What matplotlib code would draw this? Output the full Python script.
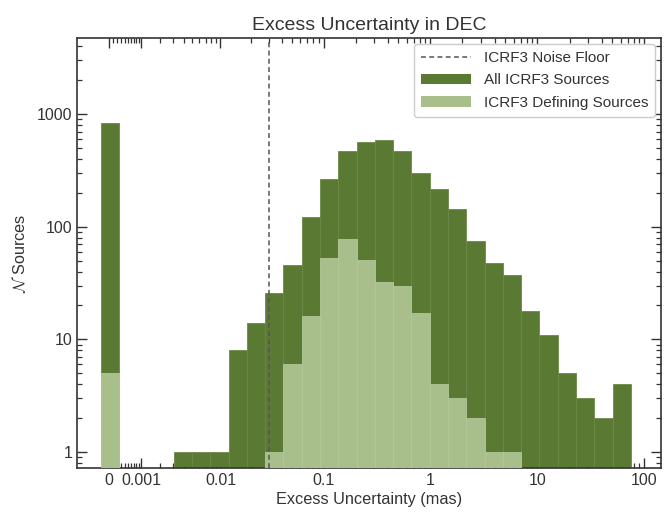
"""Histogram of the excess DEC uncertainty for all ICRF3 sources vs. defining sources."""
import matplotlib
matplotlib.use("Agg")
import matplotlib.pyplot as plt
import numpy as np
from matplotlib.patches import Patch
from matplotlib.lines import Line2D

plt.rcParams["font.family"] = ["Liberation Sans", "DejaVu Sans"]
plt.rcParams["mathtext.fontset"] = "cm"

# offset used so that zero excess can sit on the log axis
OFFSET = 0.001
NOISE_FLOOR = 0.03  # mas

# counts per bin (bins uniform in log10(x + OFFSET))
all_counts = [830, 0, 0, 0, 1, 1, 1, 8, 14, 26, 46, 121, 265, 474, 566, 590,
              474, 298, 215, 143, 75, 48, 37, 18, 11, 5, 3, 2, 4]
def_counts = [5, 0, 0, 0, 0, 0, 0, 0, 0, 1, 6, 16, 53, 78, 51, 32,
              30, 17, 4, 3, 2, 1, 1, 0, 0, 0, 0, 0, 0]

major_ticks = [0, 0.001, 0.01, 0.1, 1, 10, 100]
major_labels = ["0", "0.001", "0.01", "0.1", "1", "10", "100"]

DARK = "#5a7932"
LIGHT = "#a9bf8b"
INK = "#333333"


def fwd(x):
    return np.log10(np.clip(np.asarray(x, dtype=float) + OFFSET, 1e-12, None))


def inv(y):
    return 10.0 ** np.asarray(y, dtype=float) - OFFSET


# bin edges: 29 equal bins in transformed space
lo, width = -3.077, 0.1707
edges = inv(lo + width * np.arange(len(all_counts) + 1))
left = edges[:-1]
widths = np.diff(edges)

fig = plt.figure(figsize=(6.71, 5.12), dpi=100)
ax = fig.add_axes([0.1148, 0.0859, 0.8704, 0.8399])
ax.set_xscale("function", functions=(fwd, inv))
ax.set_yscale("log")

all_c = np.array(all_counts, dtype=float)
def_c = np.array(def_counts, dtype=float)
m = all_c > 0
ax.bar(left[m], all_c[m], width=widths[m], align="edge", color=DARK,
       edgecolor="#6b8846", linewidth=0.6, zorder=2)
m = def_c > 0
ax.bar(left[m], def_c[m], width=widths[m], align="edge", color=LIGHT,
       edgecolor="#b4c89a", linewidth=0.6, zorder=3)

ax.axvline(NOISE_FLOOR, color="#555555", ls=(0, (3.2, 2.2)), lw=1.1, zorder=4)

ax.set_xlim(inv(-3.298), inv(2.156))
ax.set_ylim(0.72, 4750)

minor = []
for dec in [0.0001, 0.001, 0.01, 0.1, 1, 10]:
    minor += [dec * k for k in range(2 if dec > 0.0001 else 1, 10)]
ax.set_xticks(major_ticks)
ax.set_xticklabels(major_labels)
ax.set_xticks(minor, minor=True)
ax.xaxis.set_minor_formatter(matplotlib.ticker.NullFormatter())
ax.set_yticks([1, 10, 100, 1000])
ax.set_yticklabels(["1", "10", "100", "1000"])

ax.tick_params(which="both", direction="in", top=True, right=True,
               labelsize=11.5, colors=INK)
ax.tick_params(which="major", length=7, width=1.0)
ax.tick_params(which="minor", length=3.5, width=0.9)
for sp in ax.spines.values():
    sp.set_color(INK)
    sp.set_linewidth(1.2)

ax.set_title("Excess Uncertainty in DEC", fontsize=14, color=INK, pad=6)
ax.set_xlabel("Excess Uncertainty (mas)", fontsize=11.7, color=INK, labelpad=3)
ax.set_ylabel(r"$\mathcal{N}$ Sources", fontsize=11.7, color=INK, labelpad=6)

handles = [Line2D([], [], color="#555555", ls=(0, (3.2, 2.2)), lw=1.1),
           Patch(facecolor=DARK), Patch(facecolor=LIGHT)]
labels = ["ICRF3 Noise Floor", "All ICRF3 Sources", "ICRF3 Defining Sources"]
leg = ax.legend(handles, labels, loc="upper right", fontsize=11,
                handlelength=3.3, labelspacing=0.55, framealpha=1,
                borderaxespad=0.4, borderpad=0.45)
leg.get_frame().set_edgecolor("#cccccc")
for t in leg.get_texts():
    t.set_color(INK)

fig.savefig("out.png", dpi=100)
